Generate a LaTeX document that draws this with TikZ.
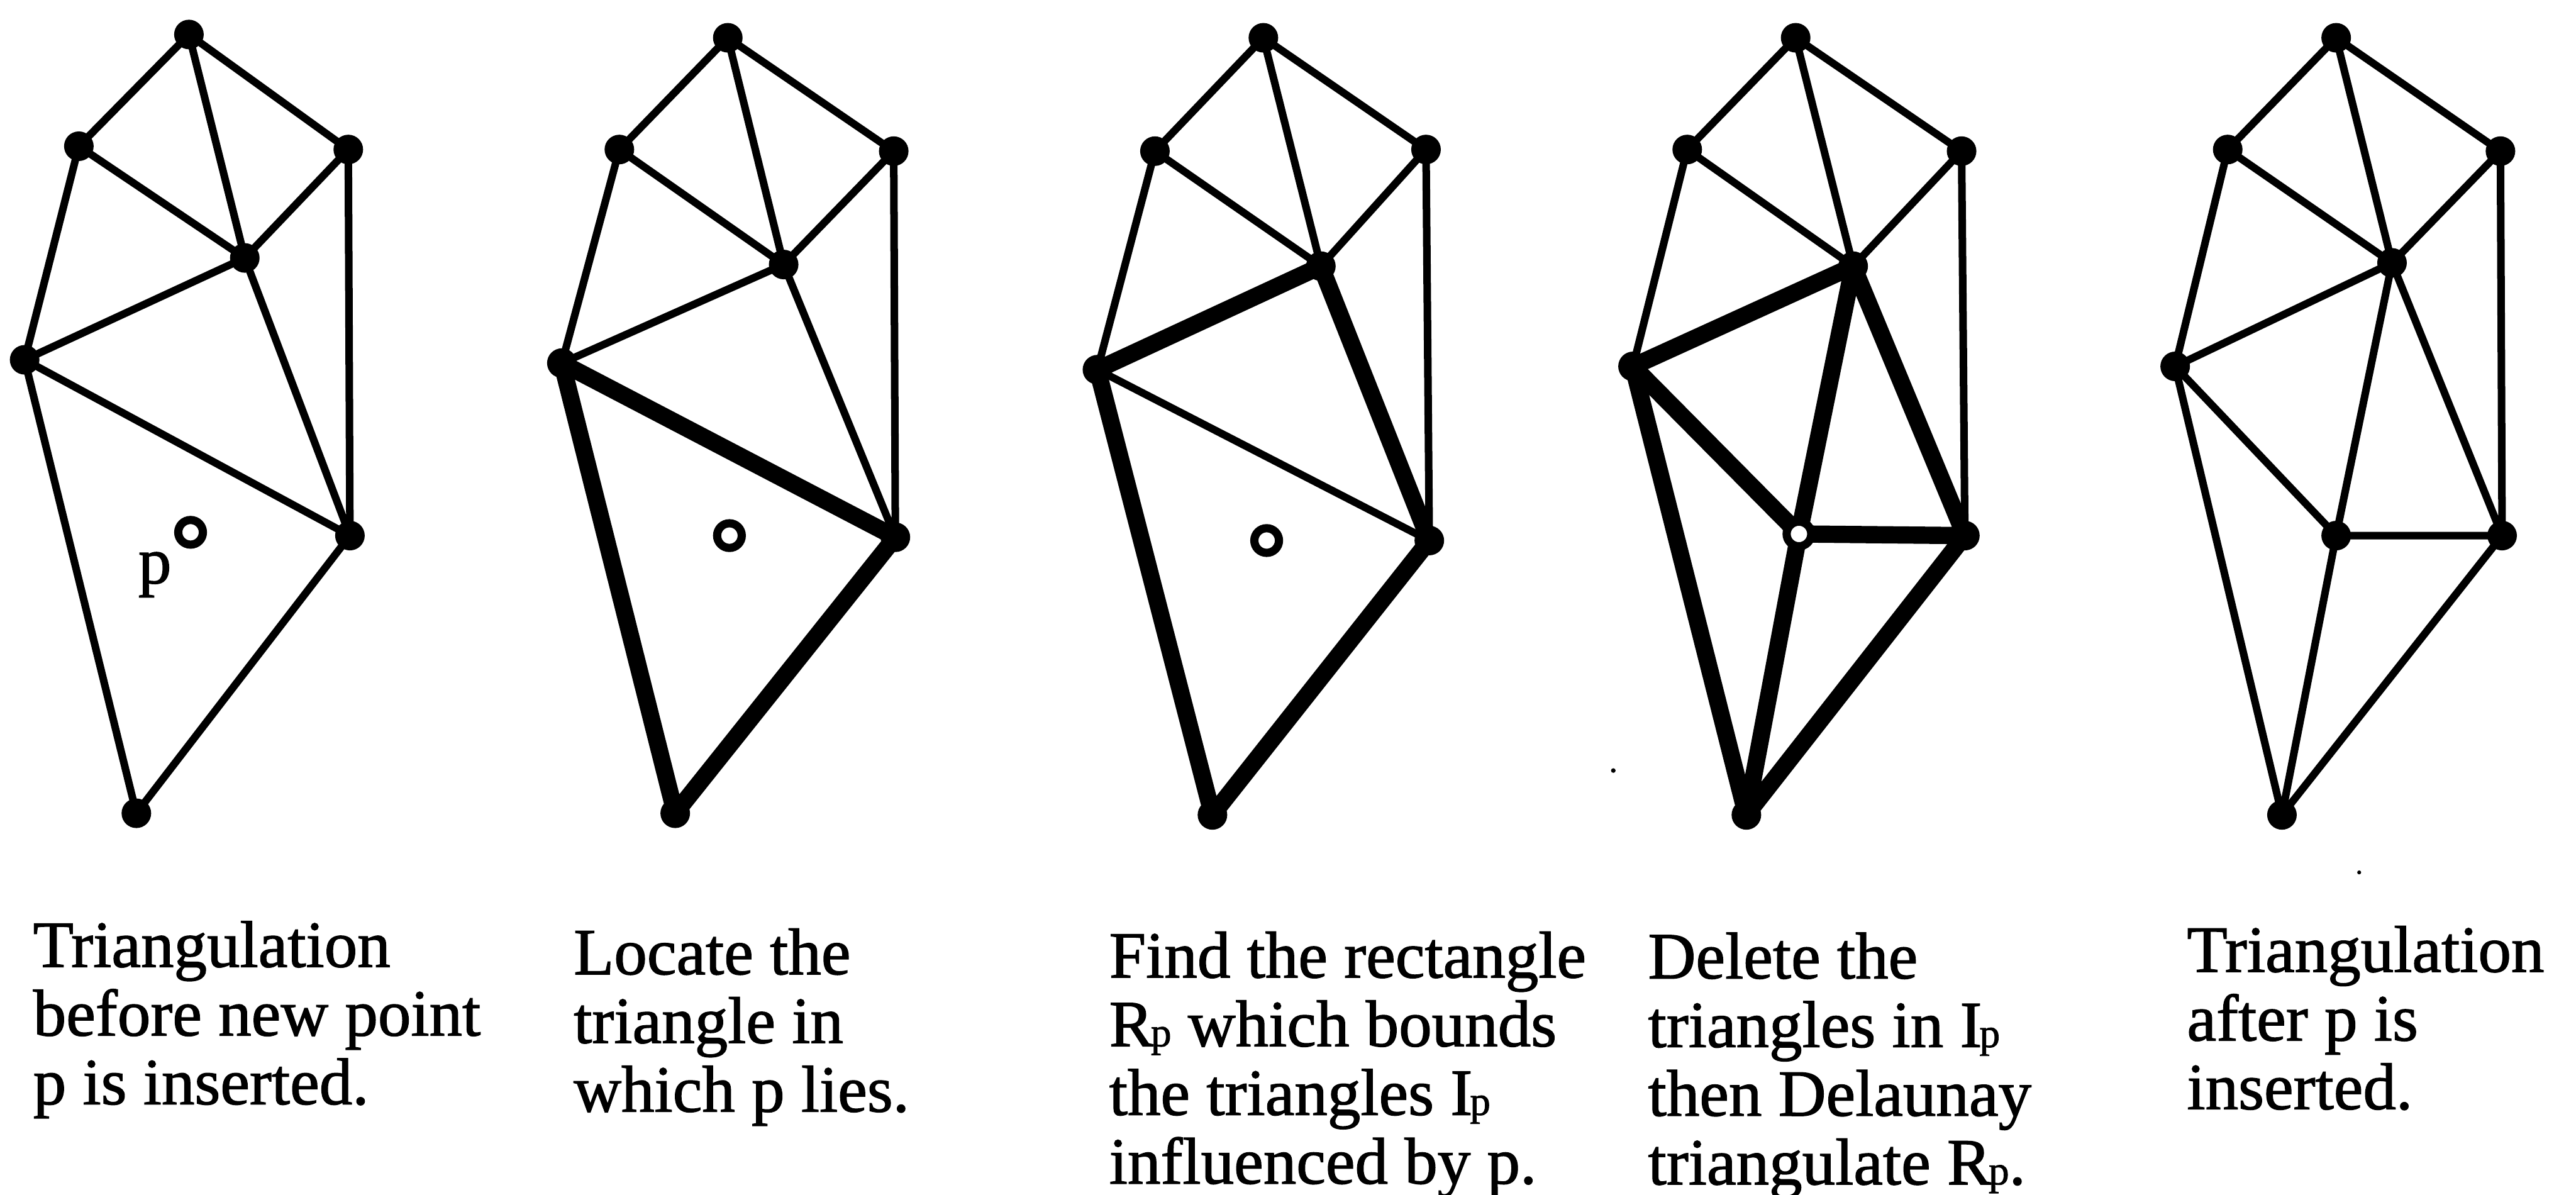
\documentclass[tikz,border=0pt]{standalone}
\usepackage{fontspec}
\setmainfont{Liberation Serif}
\newfontfamily\capfont{Liberation Serif}[FakeBold=1.3]
\newcommand{\subp}{\kern-1.5pt{\fontsize{25}{25}\selectfont p}}
\begin{document}
\begin{tikzpicture}[x=1pt,y=-1pt,
  thinedge/.style={line width=4.6pt,line cap=round},
  thickedge/.style={line width=10.5pt,line cap=round},
  vertex/.style={circle,fill=black,inner sep=0pt,minimum size=18pt},
  newpt/.style={circle,draw=black,fill=white,line width=5pt,inner sep=0pt,minimum size=15pt},
  caption/.style={anchor=base west,inner sep=0pt,font=\capfont\fontsize{40.2}{41.8}\selectfont}]
\useasboundingbox (0,0) rectangle (1568,727);

% ---------- Panel 1 ----------
\coordinate (aT) at (115,21);  \coordinate (aUL) at (48,89);  \coordinate (aUR) at (212,91);
\coordinate (aC) at (149,157); \coordinate (aL) at (15,219);  \coordinate (aR) at (213,326);
\coordinate (aB) at (83,495);  \coordinate (aP) at (116,324);
\draw[thinedge] (aT)--(aUL) (aT)--(aUR) (aT)--(aC) (aUL)--(aC) (aUR)--(aC) (aUL)--(aL)
  (aL)--(aC) (aL)--(aR) (aC)--(aR) (aUR)--(aR) (aL)--(aB) (aB)--(aR);
\foreach \v in {aT,aUL,aUR,aC,aL,aR,aB} \node[vertex] at (\v) {};
\node[newpt] (ap) at (aP) {};
\node[caption] (plabel) at (84,355) {p};

% ---------- Panel 2 ----------
\coordinate (bT) at (443,23);  \coordinate (bUL) at (377,91); \coordinate (bUR) at (544,92);
\coordinate (bC) at (477,161); \coordinate (bL) at (342,221); \coordinate (bR) at (545,327);
\coordinate (bB) at (411,495); \coordinate (bP) at (444,326);
\draw[thinedge] (bT)--(bUL) (bT)--(bUR) (bT)--(bC) (bUL)--(bC) (bUR)--(bC) (bUL)--(bL)
  (bL)--(bC) (bC)--(bR) (bUR)--(bR);
\draw[thickedge] (bL)--(bR) (bL)--(bB) (bB)--(bR);
\foreach \v in {bT,bUL,bUR,bC,bL,bR,bB} \node[vertex] at (\v) {};
\node[newpt] (bp) at (bP) {};

% ---------- Panel 3 ----------
\coordinate (cT) at (769,23);  \coordinate (cUL) at (703,92); \coordinate (cUR) at (868,91);
\coordinate (cC) at (804,162); \coordinate (cL) at (668,225); \coordinate (cR) at (870,329);
\coordinate (cB) at (738,496); \coordinate (cP) at (771,329);
\draw[thinedge] (cT)--(cUL) (cT)--(cUR) (cT)--(cC) (cUL)--(cC) (cUR)--(cC) (cUL)--(cL)
  (cL)--(cR) (cUR)--(cR);
\draw[thickedge] (cL)--(cC) (cC)--(cR) (cL)--(cB) (cB)--(cR);
\foreach \v in {cT,cUL,cUR,cC,cL,cR,cB} \node[vertex] at (\v) {};
\node[newpt] (cp) at (cP) {};

% ---------- Panel 4 ----------
\coordinate (dT) at (1093,23);  \coordinate (dUL) at (1027,91); \coordinate (dUR) at (1194,92);
\coordinate (dC) at (1128,162); \coordinate (dL) at (994,223);  \coordinate (dR) at (1196,326);
\coordinate (dB) at (1063,496); \coordinate (dP) at (1095,325);
\draw[thinedge] (dT)--(dUL) (dT)--(dUR) (dT)--(dC) (dUL)--(dC) (dUR)--(dC) (dUL)--(dL)
  (dUR)--(dR);
\draw[thickedge] (dL)--(dC) (dC)--(dR) (dL)--(dB) (dB)--(dR)
  (dL)--(dP) (dC)--(dP) (dP)--(dR) (dP)--(dB);
\foreach \v in {dT,dUL,dUR,dC,dL,dR,dB} \node[vertex] at (\v) {};
\node[newpt] (dp) at (dP) {};

% ---------- Panel 5 ----------
\coordinate (eT) at (1422,23);  \coordinate (eUL) at (1356,91); \coordinate (eUR) at (1522,92);
\coordinate (eC) at (1456,160); \coordinate (eL) at (1324,223); \coordinate (eR) at (1523,326);
\coordinate (eB) at (1389,496); \coordinate (eP) at (1422,326);
\draw[thinedge] (eT)--(eUL) (eT)--(eUR) (eT)--(eC) (eUL)--(eC) (eUR)--(eC) (eUL)--(eL)
  (eL)--(eC) (eC)--(eR) (eUR)--(eR) (eL)--(eB) (eB)--(eR)
  (eL)--(eP) (eC)--(eP) (eP)--(eR) (eP)--(eB);
\foreach \v in {eT,eUL,eUR,eC,eL,eR,eB,eP} \node[vertex] at (\v) {};

% scanning specks
\fill (982,469) circle (1.4);
\fill (1436,531) circle (1.2);

% ---------- Captions ----------
\node[caption] (c1) at (20,588.5) {\vtop{\hbox{Triangulation}\hbox{before new point}\hbox{p is inserted.}}};
\node[caption] (c2) at (349,593) {\vtop{\hbox{Locate the}\hbox{triangle in}\hbox{which p lies.}}};
\node[caption] (c3) at (675,595) {\vtop{\hbox{Find the rectangle}\hbox{R\subp{} which bounds}\hbox{the triangles I\subp}\hbox{influenced by p.}}};
\node[caption] (c4) at (1003,595.5) {\vtop{\hbox{Delete the}\hbox{triangles in I\subp}\hbox{then Delaunay}\hbox{triangulate R\subp.}}};
\node[caption] (c5) at (1331,591.5) {\vtop{\hbox{Triangulation}\hbox{after p is}\hbox{inserted.}}};
\end{tikzpicture}
\end{document}
